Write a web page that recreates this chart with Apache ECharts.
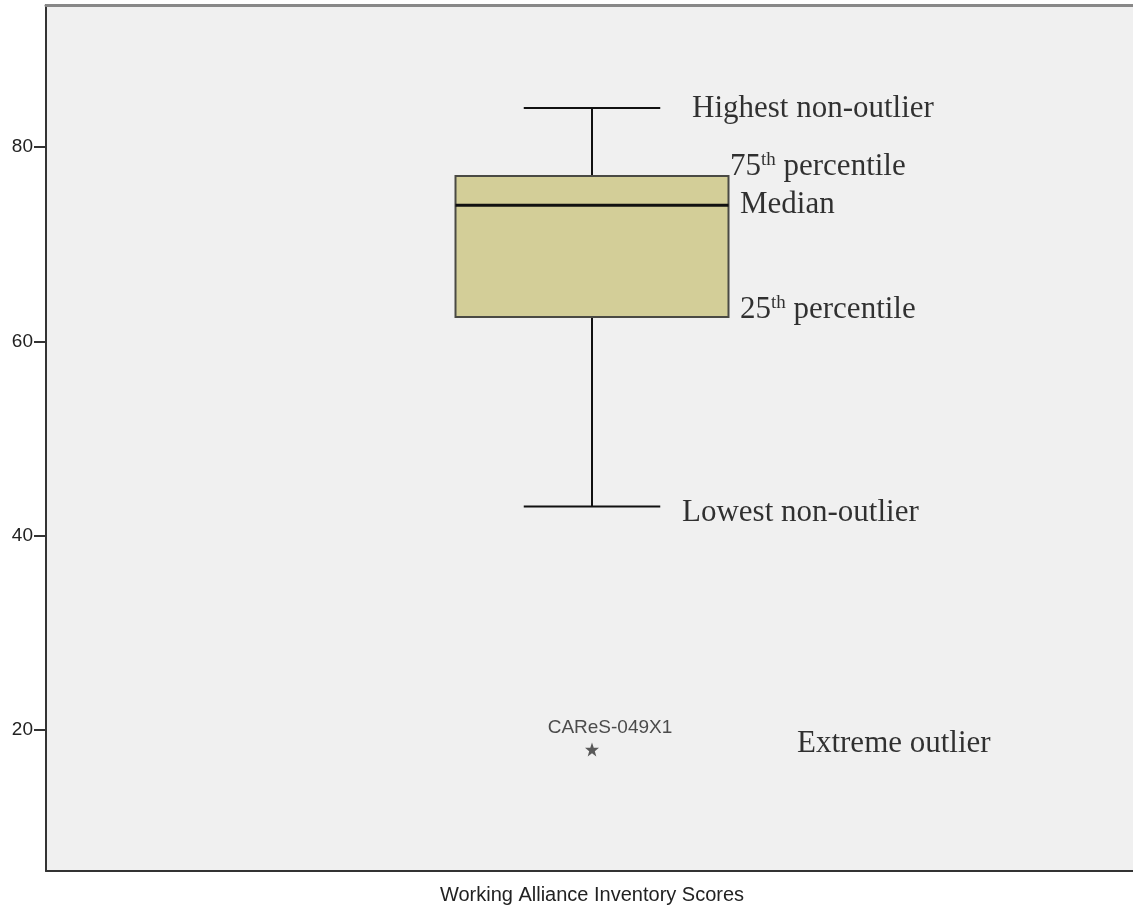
<!DOCTYPE html>
<html>
<head>
<meta charset="utf-8">
<script src="https://cdn.jsdelivr.net/npm/echarts@6/dist/echarts.min.js"></script>
<style>
  html, body { margin: 0; padding: 0; background: #fff; }
  #chart { width: 1133px; height: 909px; }
</style>
</head>
<body>
<div id="chart"></div>
<script>
  // data
  const categories = ['Working Alliance Inventory Scores']
  const boxStats = [43, 62.5, 74, 77, 84] // low, q1, median, q3, high
  const outlierValues = [18]
  const outlierIds = ['CAReS-049X1']
  const yTicks = [20, 40, 60, 80]
  const noteTexts = [
    'Highest non-outlier',
    '75{sup|th} percentile',
    'Median',
    '25{sup|th} percentile',
    'Lowest non-outlier',
    'Extreme outlier'
  ]
  const noteValues = [84, 77, 74, 62.5, 43, 18]

  // label placement (px, relative to the category centre)
  const noteOffsets = [[100, 1], [138, -9], [148, 0], [148, -7], [90, 6], [205, -6]]

  const chart = echarts.init(document.getElementById('chart'))

  const serif = 'Liberation Serif, Times New Roman, serif'
  const sans = 'Liberation Sans, Arial, sans-serif'

  chart.setOption({
    animation: false,
    backgroundColor: '#ffffff',
    grid: {
      left: 46,
      right: -5,
      top: 5,
      bottom: 38,
      show: true,
      backgroundColor: '#f0f0f0',
      borderWidth: 0,
      outerBoundsMode: 'none'
    },
    xAxis: [{
      type: 'category',
      data: categories,
      position: 'bottom',
      axisLine: { lineStyle: { color: '#333', width: 2 } },
      axisTick: { alignWithLabel: true, length: 11, lineStyle: { color: '#333', width: 2 } },
      axisLabel: { fontFamily: sans, fontSize: 20, color: '#222', margin: 14 },
      splitLine: { show: false }
    }, {
      type: 'category',
      data: categories,
      position: 'top',
      axisLine: { lineStyle: { color: '#888', width: 3 } },
      axisTick: { show: false },
      axisLabel: { show: false }
    }],
    yAxis: {
      type: 'value',
      min: 5.5,
      max: 94.6,
      axisLine: { show: true, lineStyle: { color: '#333', width: 2 } },
      axisTick: { show: true, length: 12, customValues: yTicks, lineStyle: { color: '#333', width: 2 } },
      axisLabel: { customValues: yTicks, fontFamily: sans, fontSize: 19, color: '#222', margin: 13 },
      splitLine: { show: false }
    },
    series: [{
      type: 'custom',
      data: [[0].concat(boxStats)],
      renderItem: function (params, api) {
        const band = api.size([1, 0])[0]
        const c = api.coord([api.value(0), api.value(3)])
        const x = c[0]
        const yLow = api.coord([api.value(0), api.value(1)])[1]
        const yQ1 = api.coord([api.value(0), api.value(2)])[1]
        const yMed = c[1]
        const yQ3 = api.coord([api.value(0), api.value(4)])[1]
        const yHigh = api.coord([api.value(0), api.value(5)])[1]
        const half = band * 0.125
        const cap = band * 0.0625
        const black = { stroke: '#111', lineWidth: 2 }
        return {
          type: 'group',
          children: [
            { type: 'line', shape: { x1: x, y1: yHigh, x2: x, y2: yQ3 }, style: black },
            { type: 'line', shape: { x1: x, y1: yQ1, x2: x, y2: yLow }, style: black },
            { type: 'line', shape: { x1: x - cap, y1: yHigh, x2: x + cap, y2: yHigh }, style: black },
            { type: 'line', shape: { x1: x - cap, y1: yLow, x2: x + cap, y2: yLow }, style: black },
            {
              type: 'rect',
              shape: { x: x - half, y: yQ3, width: half * 2, height: yQ1 - yQ3 },
              style: { fill: '#d3ce98', stroke: '#4a4a44', lineWidth: 2 }
            },
            { type: 'line', shape: { x1: x - half, y1: yMed, x2: x + half, y2: yMed }, style: { stroke: '#111', lineWidth: 3 } }
          ]
        }
      }
    }, {
      type: 'scatter',
      data: outlierValues.map(function (v, i) { return { value: [0, v], name: outlierIds[i] } }),
      symbol: 'path://M0,-10 L2.35,-3.24 L9.51,-3.09 L3.8,1.24 L5.88,8.09 L0,4 L-5.88,8.09 L-3.8,1.24 L-9.51,-3.09 L-2.35,-3.24 Z',
      symbolSize: 14,
      itemStyle: { color: '#333' },
      label: {
        show: true,
        position: 'top',
        distance: 5,
        offset: [18, 0],
        formatter: '{b}',
        fontFamily: sans,
        fontSize: 19,
        color: '#222'
      }
    }, {
      type: 'scatter',
      symbolSize: 0,
      silent: true,
      data: noteValues.map(function (v, i) {
        return {
          value: [0, v],
          name: noteTexts[i],
          label: { offset: noteOffsets[i] }
        }
      }),
      label: {
        show: true,
        position: 'right',
        distance: 0,
        formatter: '{b}',
        fontFamily: serif,
        fontSize: 31,
        color: '#000',
        rich: {
          sup: { fontFamily: serif, fontSize: 19, color: '#000', verticalAlign: 'top', padding: [0, 0, 14, 0] }
        }
      }
    }]
  })
</script>
</body>
</html>
